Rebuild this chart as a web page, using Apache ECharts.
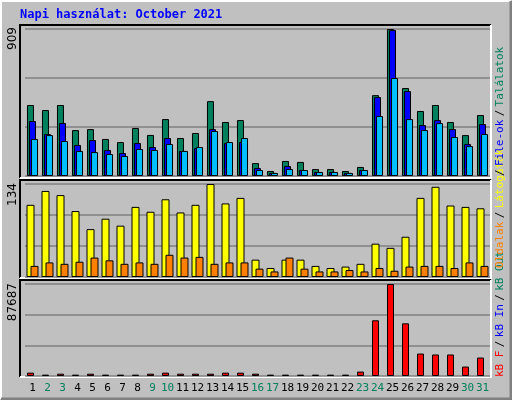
<!DOCTYPE html>
<html><head><meta charset="utf-8">
<script src="https://cdn.jsdelivr.net/npm/echarts@6/dist/echarts.min.js"></script>
<style>body{margin:0;background:#c0c0c0}#c{width:512px;height:400px}</style>
</head><body><div id="c"></div>
<script>
var days = ['1','2','3','4','5','6','7','8','9','10','11','12','13','14','15','16','17','18','19','20','21','22','23','24','25','26','27','28','29','30','31'];
var weekend = ['2','3','9','10','16','17','23','24','30','31'];
var hits  = [439, 408, 439, 284, 290, 229, 210, 297, 254, 352, 235, 266, 463, 334, 346, 80, 31, 93, 87, 43, 43, 31, 56, 500, 909, 544, 402, 439, 334, 253, 377];
var files = [340, 259, 328, 192, 222, 161, 142, 204, 179, 235, 155, 173, 290, 204, 210, 49, 19, 62, 37, 25, 25, 19, 37, 488, 903, 525, 315, 346, 290, 198, 321];
var pages = [229, 253, 216, 155, 148, 136, 124, 167, 161, 198, 155, 179, 278, 210, 235, 37, 19, 43, 37, 25, 25, 19, 37, 371, 606, 352, 284, 327, 241, 185, 260];
var visits = [104, 124, 118, 95, 69, 84, 74, 101, 94, 112, 93, 104, 134, 106, 114, 25, 13, 25, 25, 16, 13, 15, 19, 48, 42, 58, 114, 130, 103, 101, 99];
var sites  = [16, 21, 19, 22, 28, 24, 19, 21, 19, 32, 28, 29, 19, 21, 21, 12, 8, 28, 12, 8, 8, 10, 8, 13, 9, 15, 16, 16, 13, 21, 16];
var kbytes = [3200, 1300, 2200, 1300, 2200, 1300, 1300, 1300, 2200, 3200, 2200, 2200, 2200, 3200, 3200, 2200, 1300, 1300, 1300, 1300, 1300, 1300, 4200, 53100, 87687, 50200, 21400, 20500, 20500, 9000, 17600];

var myChart = echarts.init(document.getElementById('c'));
var mono = 'DejaVu Sans Mono';
var bs = {borderColor: '#000', borderWidth: 1};

function xAx(i, show) {
    return {
        type: 'category', gridIndex: i, data: days,
        axisLine: {show: false}, axisTick: {show: false},
        axisLabel: {
            show: show, fontFamily: mono, fontSize: 11, margin: 7, interval: 0,
            color: function (v) { return weekend.indexOf(v) >= 0 ? '#00805c' : '#000'; }
        }
    };
}
function yAx(i, max) {
    return {
        type: 'value', gridIndex: i, min: 0, max: max, interval: max / 3,
        axisLabel: {show: false}, axisLine: {show: false}, axisTick: {show: false},
        splitLine: {lineStyle: {color: '#808080', width: 1.5}}
    };
}
function frame(y, h) {
    return [
        {type: 'rect', shape: {x: 20, y: y, width: 471, height: h}, style: {fill: '#c0c0c0'}, z: -1},
        {type: 'polyline', shape: {points: [[20, y + h], [20, y], [491, y]]}, style: {stroke: '#000', lineWidth: 2, fill: null}},
        {type: 'polyline', shape: {points: [[491, y], [491, y + h], [20, y + h]]}, style: {stroke: '#fff', lineWidth: 2, fill: null}}
    ];
}
function vtext(x, y, txt, color) {
    return {type: 'text', x: x, y: y, rotation: Math.PI / 2,
        style: {text: txt, fill: color, font: '11px ' + mono, align: 'left', verticalAlign: 'middle'}};
}
function maxLabel(y, txt) {
    return {type: 'text', x: 13, y: y, rotation: Math.PI / 2,
        style: {text: txt, fill: '#000', font: '12px DejaVu Sans', align: 'right', verticalAlign: 'middle'}};
}

var graphics = [].concat(frame(25, 153), frame(180, 98), frame(280, 97));
graphics.push(
    {type: 'polyline', shape: {points: [[1, 399], [1, 1], [511, 1]]}, style: {stroke: '#fff', lineWidth: 2, fill: null}},
    {type: 'polyline', shape: {points: [[511, 1], [511, 399], [1, 399]]}, style: {stroke: '#808080', lineWidth: 3, fill: null}},
    {type: 'text', x: 20, y: 15, style: {text: 'Napi használat: October 2021', fill: '#0000ff', font: 'bold 12px ' + mono, verticalAlign: 'middle'}},
    maxLabel(27, '909'), maxLabel(183, '134'), maxLabel(283, '87687'),
    {type: 'text', x: 500, y: 377, rotation: Math.PI / 2, style: {
        text: '{r|kB F} {k|/} {b|kB In} {k|/} {g|kB Out}', verticalAlign: 'middle', align: 'left',
        rich: {r: {fill: '#ff0000', font: '11px ' + mono}, k: {fill: '#000', font: '11px ' + mono},
               b: {fill: '#0000ff', font: '11px ' + mono}, g: {fill: '#00805c', font: '11px ' + mono}}}},
    {type: 'text', x: 500, y: 268, rotation: Math.PI / 2, style: {
        text: '{o|Oldalak} {k|/} {y|Látogatók}', verticalAlign: 'middle', align: 'left',
        rich: {o: {fill: '#ff8000', font: '11px ' + mono}, k: {fill: '#000', font: '11px ' + mono},
               y: {fill: '#ffff00', font: '11px ' + mono}}}},
    {type: 'text', x: 500, y: 176, rotation: Math.PI / 2, style: {
        text: '{k|/} {b|File-ok} {k|/} {g|Találatok}', verticalAlign: 'middle', align: 'left',
        rich: {k: {fill: '#000', font: '11px ' + mono}, b: {fill: '#0000ff', font: '11px ' + mono},
               g: {fill: '#00805c', font: '11px ' + mono}}}}
);

option = {
    backgroundColor: '#c0c0c0',
    animation: false,
    grid: [
        {left: 25, right: 22, top: 29, height: 147},
        {left: 25, right: 22, top: 184, height: 93},
        {left: 25, right: 22, top: 284, height: 92}
    ],
    xAxis: [xAx(0, false), xAx(1, false), xAx(2, true)],
    yAxis: [yAx(0, 909), yAx(1, 134), yAx(2, 87687)],
    graphic: graphics,
    series: [
        {type: 'bar', xAxisIndex: 0, yAxisIndex: 0, data: hits, barWidth: 7, barGap: '-71%', itemStyle: Object.assign({color: '#00805c'}, bs)},
        {type: 'bar', xAxisIndex: 0, yAxisIndex: 0, data: files, barWidth: 7, barGap: '-71%', itemStyle: Object.assign({color: '#0000ff'}, bs)},
        {type: 'bar', xAxisIndex: 0, yAxisIndex: 0, data: pages, barWidth: 7, barGap: '-71%', itemStyle: Object.assign({color: '#00bfff'}, bs)},
        {type: 'bar', xAxisIndex: 1, yAxisIndex: 1, data: visits, barWidth: 8, barGap: '-50%', itemStyle: Object.assign({color: '#ffff00'}, bs)},
        {type: 'bar', xAxisIndex: 1, yAxisIndex: 1, data: sites, barWidth: 8, barGap: '-50%', itemStyle: Object.assign({color: '#ff8000'}, bs)},
        {type: 'bar', xAxisIndex: 2, yAxisIndex: 2, data: kbytes, barWidth: 7, barGap: '-43%', itemStyle: Object.assign({color: '#ff0000'}, bs)},
        {type: 'bar', xAxisIndex: 2, yAxisIndex: 2, data: [], barWidth: 7, barGap: '-43%'}
    ]
};
myChart.setOption(option);
window.onresize = myChart.resize;
</script></body></html>
